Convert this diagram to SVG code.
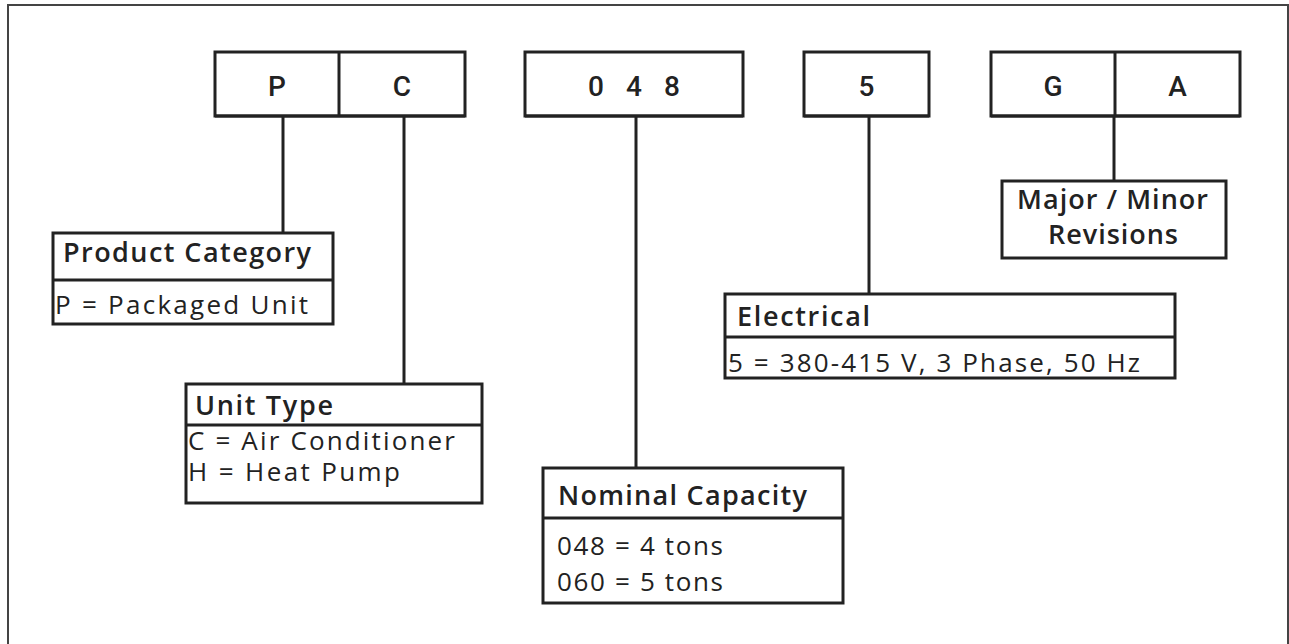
<svg xmlns="http://www.w3.org/2000/svg" width="1289" height="644" viewBox="0 0 1289 644">
<style>
.frame{fill:none;stroke:#444;stroke-width:2}
.box{fill:#fff;stroke:#222;stroke-width:3}
.sep{stroke:#222;stroke-width:3}
.conn{stroke:#222;stroke-width:3;fill:none}
.code{font-family:Roboto,"Liberation Sans",sans-serif;font-size:28px;font-weight:500;fill:#222;text-anchor:middle}
.head{font-family:"Open Sans","Liberation Sans",sans-serif;font-size:27px;font-weight:600;fill:#222}
.val{font-family:"Open Sans","Liberation Sans",sans-serif;font-size:26px;fill:#222}
</style>
<rect width="1289" height="644" fill="#fff"/>
<rect class="frame" x="8" y="5" width="1280" height="650"/>
<g id="connectors">
<line class="conn" x1="283" y1="116" x2="283" y2="233"/>
<line class="conn" x1="404" y1="116" x2="404" y2="384"/>
<line class="conn" x1="636" y1="116" x2="636" y2="468"/>
<line class="conn" x1="869" y1="116" x2="869" y2="294"/>
<line class="conn" x1="1114" y1="116" x2="1114" y2="181"/>
</g>
<g id="code-pc">
<rect class="box" x="215" y="52" width="250" height="64"/>
<line class="sep" x1="339" y1="52" x2="339" y2="116"/>
<line class="sep" x1="215" y1="116" x2="465" y2="116" stroke-width="4"/>
<text class="code" x="277" y="96">P</text>
<text class="code" x="402" y="96">C</text>
</g>
<g id="code-048">
<rect class="box" x="525" y="52" width="218" height="64"/>
<line class="sep" x1="525" y1="116" x2="743" y2="116" stroke-width="4"/>
<text class="code" x="588" y="96" style="text-anchor:start" textLength="92" lengthAdjust="spacing" xml:space="preserve">0 4 8</text>
</g>
<g id="code-5">
<rect class="box" x="804" y="52" width="125" height="64"/>
<line class="sep" x1="804" y1="116" x2="929" y2="116" stroke-width="4"/>
<text class="code" x="866.5" y="96">5</text>
</g>
<g id="code-ga">
<rect class="box" x="991" y="52" width="249" height="64"/>
<line class="sep" x1="1115" y1="52" x2="1115" y2="116"/>
<line class="sep" x1="991" y1="116" x2="1240" y2="116" stroke-width="4"/>
<text class="code" x="1053" y="96">G</text>
<text class="code" x="1177.5" y="96">A</text>
</g>
<g id="product-category">
<rect class="box" x="53" y="233" width="280" height="91"/>
<line class="sep" x1="53" y1="280" x2="333" y2="280"/>
<text class="head" x="63" y="262" textLength="248" lengthAdjust="spacing">Product Category</text>
<text class="val" x="55" y="314" textLength="253" lengthAdjust="spacing">P = Packaged Unit</text>
</g>
<g id="unit-type">
<rect class="box" x="186" y="384" width="296" height="119"/>
<line class="sep" x1="186" y1="425" x2="482" y2="425"/>
<text class="head" x="195" y="415" textLength="138" lengthAdjust="spacing">Unit Type</text>
<text class="val" x="188" y="450" textLength="267" lengthAdjust="spacing">C = Air Conditioner</text>
<text class="val" x="188" y="481" textLength="212" lengthAdjust="spacing">H = Heat Pump</text>
</g>
<g id="nominal-capacity">
<rect class="box" x="543" y="468" width="300" height="135"/>
<line class="sep" x1="543" y1="518" x2="843" y2="518"/>
<text class="head" x="558" y="505" textLength="249" lengthAdjust="spacing">Nominal Capacity</text>
<text class="val" x="557" y="555" textLength="166" lengthAdjust="spacing">048 = 4 tons</text>
<text class="val" x="557" y="591" textLength="166" lengthAdjust="spacing">060 = 5 tons</text>
</g>
<g id="electrical">
<rect class="box" x="725" y="294" width="450" height="84"/>
<line class="sep" x1="725" y1="337" x2="1175" y2="337"/>
<text class="head" x="737" y="326" textLength="133" lengthAdjust="spacing">Electrical</text>
<text class="val" x="728" y="372" textLength="412" lengthAdjust="spacing">5 = 380-415 V, 3 Phase, 50 Hz</text>
</g>
<g id="revisions">
<rect class="box" x="1002" y="181" width="224" height="77"/>
<text class="head" x="1017" y="209" textLength="191" lengthAdjust="spacing">Major / Minor</text>
<text class="head" x="1048" y="244" textLength="130" lengthAdjust="spacing">Revisions</text>
</g>
</svg>
